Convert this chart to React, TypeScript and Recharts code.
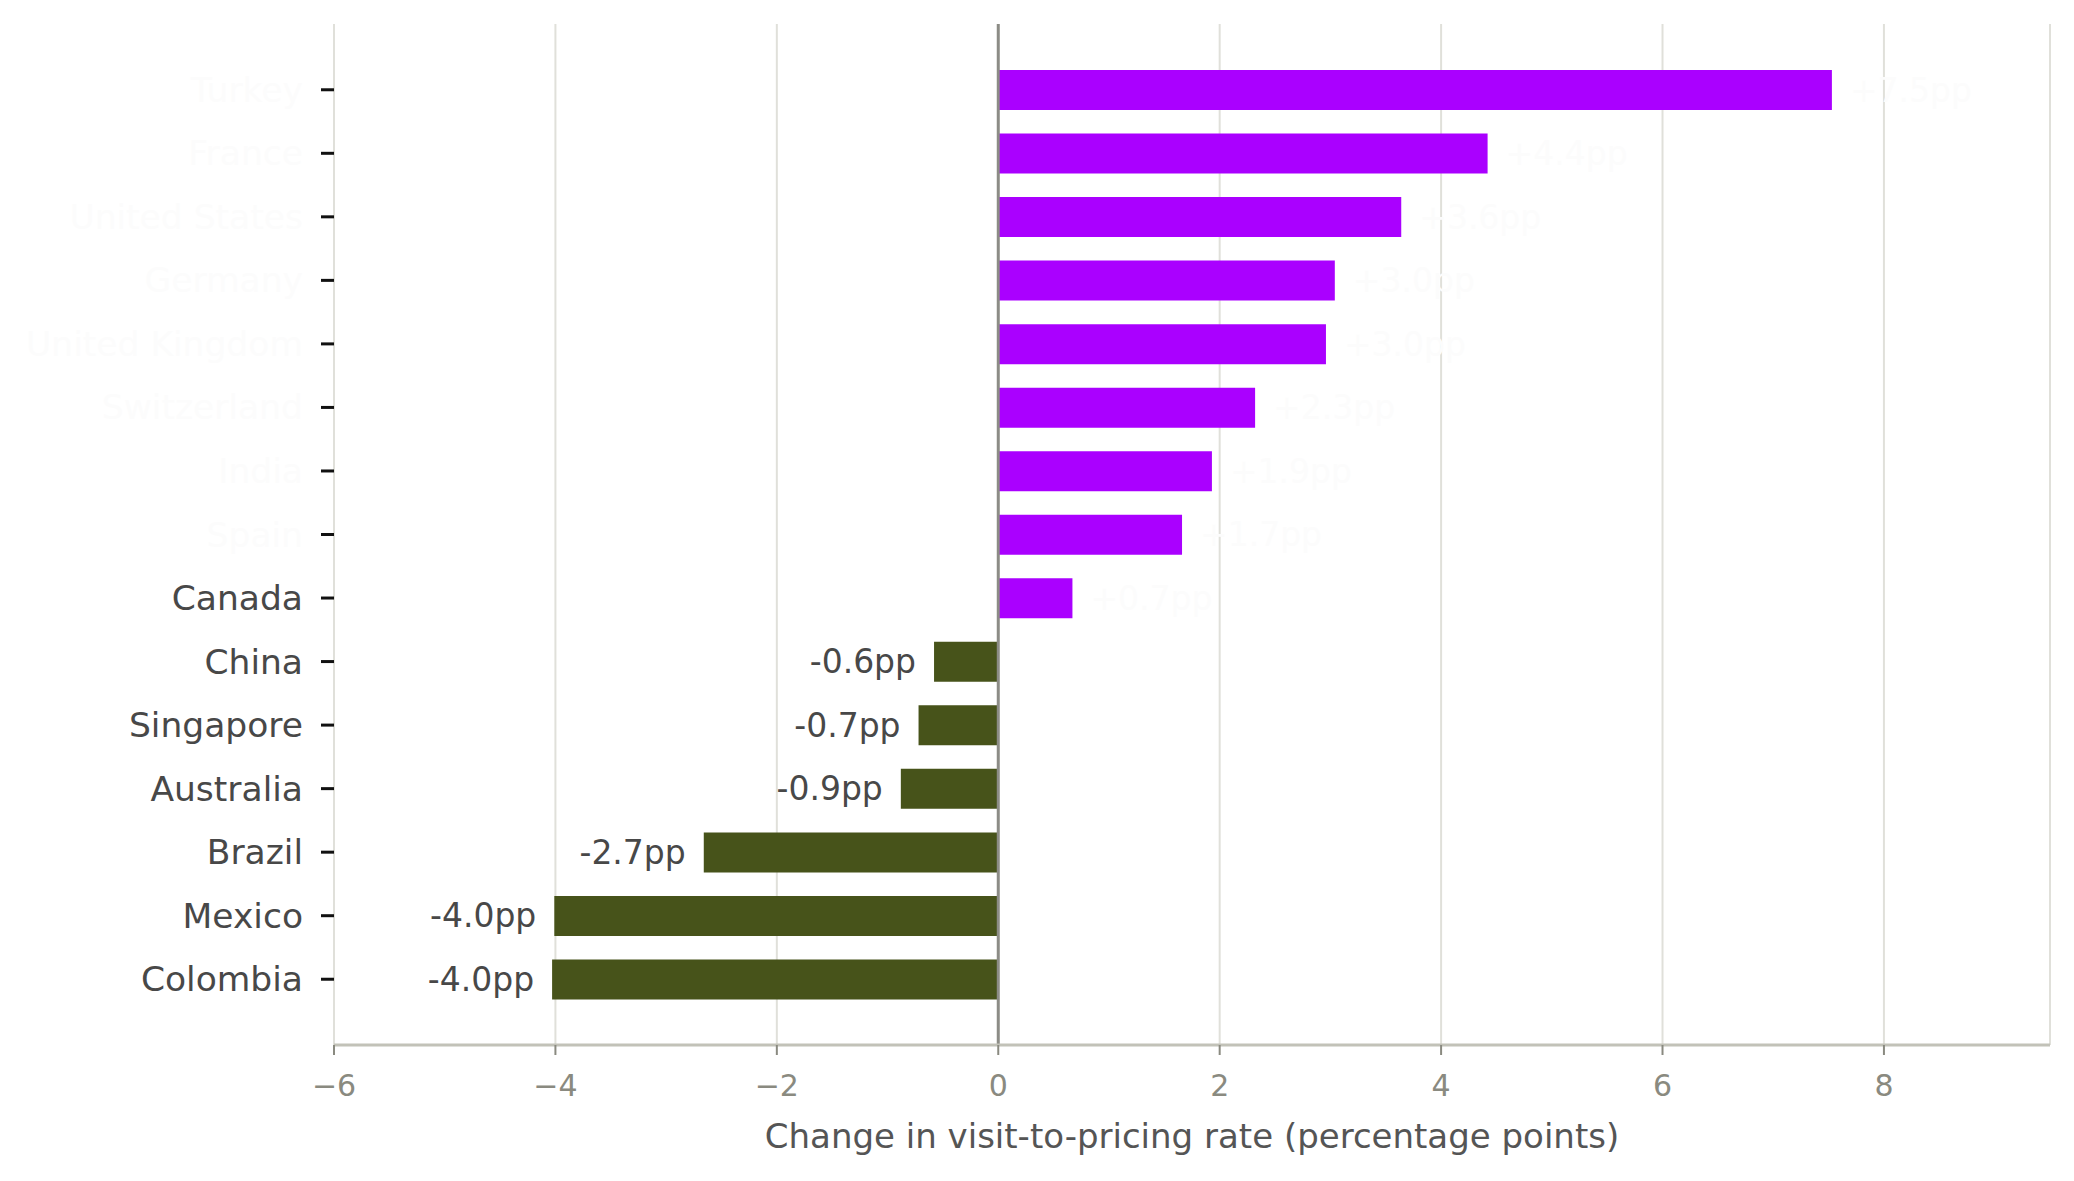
import { Bar, BarChart, CartesianGrid, Cell, Label, LabelList, ReferenceLine, XAxis, YAxis } from 'recharts';

const countries = [
    'Turkey',
    'France',
    'United States',
    'Germany',
    'United Kingdom',
    'Switzerland',
    'India',
    'Spain',
    'Canada',
    'China',
    'Singapore',
    'Australia',
    'Brazil',
    'Mexico',
    'Colombia',
];

const changes = [7.53, 4.42, 3.64, 3.04, 2.96, 2.32, 1.93, 1.66, 0.67, -0.58, -0.72, -0.88, -2.66, -4.01, -4.03];

const xTicks = [-6, -4, -2, 0, 2, 4, 6, 8];

// countries whose tick label is drawn in near-white in the original
const faintLabels = ['Turkey', 'France', 'United States', 'Germany', 'United Kingdom', 'Switzerland', 'India', 'Spain'];

const data = countries.map((country, i) => ({ country, change: changes[i] }));

const font = '"DejaVu Sans", sans-serif';
const upColor = '#aa00ff';
const downColor = '#47531a';
const textGray = '#484848';
const faintWhite = '#fcfcfc';

function CountryTick(props: any) {
    const { x, y, payload } = props;
    const faint = faintLabels.includes(payload.value);
    return (
        <text
            x={x}
            y={y}
            textAnchor="end"
            dominantBaseline="central"
            fontFamily={font}
            fontSize={34.5}
            fill={faint ? faintWhite : textGray}
        >
            {payload.value}
        </text>
    );
}

function ValueLabel(props: any) {
    const { x, y, width, height, value } = props;
    const left = Math.min(x, x + width);
    const right = Math.max(x, x + width);
    const cy = y + height / 2;
    const text = (value > 0 ? '+' : '') + value.toFixed(1) + 'pp';
    if (value >= 0) {
        return (
            <text x={right + 18} y={cy} dominantBaseline="central" fontFamily={font} fontSize={33} fill={faintWhite}>
                {text}
            </text>
        );
    }
    return (
        <text x={left - 18} y={cy} textAnchor="end" dominantBaseline="central" fontFamily={font} fontSize={33} fill={textGray}>
            {text}
        </text>
    );
}

const fmtTick = (v: number) => (v < 0 ? '\u2212' + Math.abs(v) : String(v));

export default function App() {
    return (
        <div style={{ position: 'absolute', left: 0, top: 0, background: '#fff' }}>
            <BarChart
                width={2074}
                height={1181}
                data={data}
                layout="vertical"
                margin={{ top: 24, right: 24, bottom: 0, left: 0 }}
            >
                <CartesianGrid horizontal={false} stroke="#e0e0da" strokeWidth={2} />
                <XAxis
                    type="number"
                    domain={[-6, 9.5]}
                    ticks={xTicks}
                    allowDataOverflow
                    tickFormatter={fmtTick}
                    height={136}
                    stroke="#c2c2b8"
                    axisLine={{ stroke: '#c2c2b8', strokeWidth: 3 }}
                    tickLine={{ stroke: '#8a8a80', strokeWidth: 2 }}
                    tickSize={10}
                    tickMargin={20}
                    tick={{ fill: '#8a8a80', fontSize: 30, fontFamily: font }}
                >
                    <Label
                        value="Change in visit-to-pricing rate (percentage points)"
                        position="insideBottom"
                        offset={33}
                        fill="#555"
                        fontSize={34}
                        fontFamily={font}
                    />
                </XAxis>
                <YAxis
                    type="category"
                    dataKey="country"
                    width={334}
                    axisLine={false}
                    tickLine={{ stroke: '#111', strokeWidth: 3 }}
                    tickSize={13}
                    tickMargin={18}
                    padding={{ top: 34, bottom: 34 }}
                    interval={0}
                    tick={<CountryTick />}
                />
                <ReferenceLine x={0} stroke="#8c8c86" strokeWidth={3} />
                <Bar dataKey="change" barSize={40} isAnimationActive={false}>
                    {data.map((d) => (
                        <Cell key={d.country} fill={d.change >= 0 ? upColor : downColor} />
                    ))}
                    <LabelList dataKey="change" content={<ValueLabel />} />
                </Bar>
            </BarChart>
        </div>
    );
}
